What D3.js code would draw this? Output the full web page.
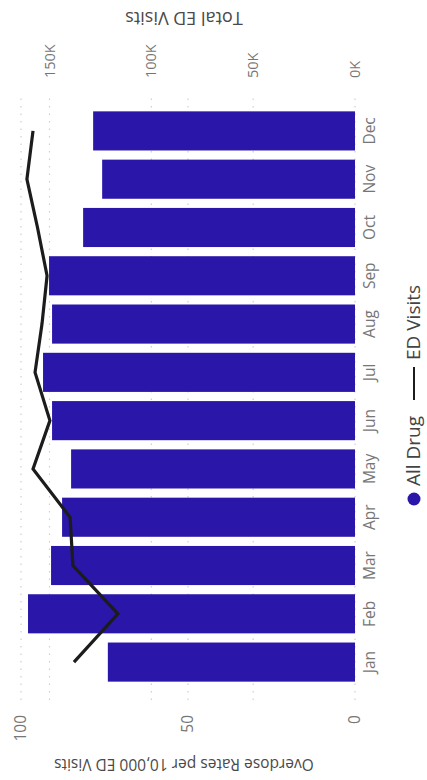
<!DOCTYPE html>
<html>
<head>
<meta charset="utf-8">
<script src="https://cdn.jsdelivr.net/npm/d3@7/dist/d3.min.js"></script>
<style>
  html, body { margin: 0; padding: 0; background: #fff; }
  svg { display: block; }
  text { font-family: "Open Sans", "Noto Sans", sans-serif; }
</style>
</head>
<body>
<svg id="chart" width="427" height="780"></svg>
<script>
const months = ["Jan","Feb","Mar","Apr","May","Jun","Jul","Aug","Sep","Oct","Nov","Dec"];
const overdoseRates = [74.0, 97.9, 91.0, 87.7, 85.0, 90.7, 93.4, 90.7, 91.6, 81.4, 75.7, 78.4];
const edVisits = [138000, 116400, 138500, 139900, 158100, 149800, 157100, 153700, 151200, 155900, 161100, 158100];
const rateTicks = [0, 50, 100];
const visitTicks = [0, 50000, 100000, 150000];
const legendLabels = ["All Drug", "ED Visits"];

const W = 780, H = 427; // unrotated chart frame
const svg = d3.select("#chart");
const g = svg.append("g").attr("transform", "translate(0,780) rotate(-90)");

const plot = { left: 80, right: 687, top: 21, bottom: 355 };

const x = d3.scaleBand().domain(months).range([plot.left, plot.right])
  .paddingInner(0.19).paddingOuter(0.38);
const yRate = d3.scaleLinear().domain([0, 100]).range([plot.bottom, plot.top]);
const yVisits = d3.scaleLinear().domain([0, 164000]).range([plot.bottom, plot.top]);

// gridlines
const grid = g.append("g");
const gridVals = rateTicks.map(v => yRate(v)).concat(visitTicks.slice(1).map(v => yVisits(v)));
grid.selectAll("line").data(gridVals).enter().append("line")
  .attr("x1", plot.left).attr("x2", plot.right)
  .attr("y1", d => d).attr("y2", d => d)
  .attr("stroke", "#cfcfcf").attr("stroke-width", 1.2)
  .attr("stroke-dasharray", "1.5,6");

// bars
g.append("g").selectAll("rect").data(months).enter().append("rect")
  .attr("x", d => x(d))
  .attr("width", x.bandwidth())
  .attr("y", (d, i) => yRate(overdoseRates[i]))
  .attr("height", (d, i) => yRate(0) - yRate(overdoseRates[i]))
  .attr("fill", "#2a16a8");

// line
const line = d3.line()
  .x((d, i) => x(months[i]) + x.bandwidth() / 2)
  .y(d => yVisits(d));
g.append("path").datum(edVisits)
  .attr("d", line)
  .attr("fill", "none")
  .attr("stroke", "#1c1c1c")
  .attr("stroke-width", 3.2)
  .attr("stroke-linejoin", "miter");

// x axis labels
const xAxis = d3.axisBottom(x).tickSize(0).tickPadding(0);
const xa = g.append("g").attr("transform", `translate(0,${plot.bottom + 4})`).call(xAxis);
xa.select(".domain").remove();
xa.selectAll("text").attr("font-size", 15.5).attr("fill", "#767676")
  .attr("font-family", "'Open Sans', sans-serif").attr("dy", "1em");

// left axis
const yl = d3.axisLeft(yRate).tickValues(rateTicks).tickSize(0).tickPadding(0);
const yla = g.append("g").attr("transform", `translate(65,0)`).call(yl);
yla.select(".domain").remove();
yla.selectAll("text").attr("font-size", 15.5).attr("fill", "#767676")
  .attr("font-family", "'Open Sans', sans-serif");

// right axis
const yr = d3.axisRight(yVisits).tickValues(visitTicks).tickSize(0).tickPadding(0)
  .tickFormat(d => (d / 1000) + "K");
const yra = g.append("g").attr("transform", `translate(702,0)`).call(yr);
yra.select(".domain").remove();
yra.selectAll("text").attr("font-size", 14.5).attr("fill", "#767676")
  .attr("font-family", "'Open Sans', sans-serif");

// axis titles
g.append("text")
  .attr("transform", `translate(15,${(plot.top + plot.bottom) / 2 - 4}) rotate(-90)`)
  .attr("text-anchor", "middle").attr("dominant-baseline", "central")
  .attr("font-size", 15.5).attr("fill", "#4a4a4a")
  .text("Overdose Rates per 10,000 ED Visits");
g.append("text")
  .attr("transform", `translate(761,${(plot.top + plot.bottom) / 2 - 4}) rotate(-90)`)
  .attr("text-anchor", "middle").attr("dominant-baseline", "central")
  .attr("font-size", 18).attr("fill", "#4a4a4a")
  .text("Total ED Visits");

// legend
const lg = g.append("g").attr("transform", "translate(0,413)");
lg.append("circle").attr("cx", 281).attr("cy", 1).attr("r", 6.5).attr("fill", "#2a16a8");
lg.append("text").attr("x", 294).attr("y", 0).attr("dominant-baseline", "central")
  .attr("font-size", 19).attr("fill", "#444").text(legendLabels[0]);
lg.append("line").attr("x1", 380).attr("x2", 413).attr("y1", 1).attr("y2", 1)
  .attr("stroke", "#1c1c1c").attr("stroke-width", 2);
lg.append("text").attr("x", 420).attr("y", 0).attr("dominant-baseline", "central")
  .attr("font-size", 19).attr("fill", "#444").text(legendLabels[1]);
</script>
</body>
</html>
